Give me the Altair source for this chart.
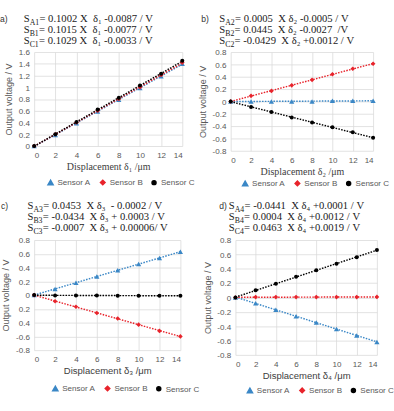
import altair as alt
import pandas as pd

x_disp = [0, 2, 4, 6, 8, 10, 12, 14]
series_names = ["Sensor A", "Sensor B", "Sensor C"]

a_sensor_a = [0, 0.19, 0.39, 0.59, 0.79, 0.99, 1.19, 1.40]
a_sensor_b = [0, 0.20, 0.40, 0.60, 0.80, 1.00, 1.21, 1.42]
a_sensor_c = [0, 0.20, 0.41, 0.62, 0.82, 1.03, 1.23, 1.45]

b_sensor_a = [0, 0.00, 0.00, 0.00, 0.00, 0.01, 0.01, 0.01]
b_sensor_b = [0, 0.09, 0.17, 0.26, 0.35, 0.44, 0.53, 0.61]
b_sensor_c = [0, -0.09, -0.17, -0.26, -0.34, -0.42, -0.50, -0.59]

c_sensor_a = [0, 0.09, 0.18, 0.27, 0.36, 0.45, 0.54, 0.63]
c_sensor_b = [0, -0.09, -0.17, -0.26, -0.34, -0.43, -0.52, -0.60]
c_sensor_c = [0, -0.005, -0.005, -0.007, -0.008, -0.008, -0.009, -0.01]

d_sensor_a = [0, -0.08, -0.17, -0.26, -0.35, -0.44, -0.53, -0.62]
d_sensor_b = [0, 0.005, 0.005, 0.005, 0.005, 0.005, 0.005, 0.008]
d_sensor_c = [0, 0.10, 0.19, 0.29, 0.38, 0.47, 0.56, 0.66]

eq_a = [["A1", "= 0.1002 X  δ₁ -0.0087 / V"],
        ["B1", "= 0.1015 X  δ₁ -0.0077 / V"],
        ["C1", "= 0.1029 X  δ₁ -0.0033 / V"]]
eq_b = [["A2", "= 0.0005  X δ₂ -0.0005 / V"],
        ["B2", "= 0.0445  X δ₂ -0.0027  /V"],
        ["C2", "= -0.0429  X δ₂ +0.0012 / V"]]
eq_c = [["A3", "= 0.0453  X δ₃  - 0.0002 / V"],
        ["B3", "= -0.0434  X δ₃ + 0.0003 / V"],
        ["C3", "= -0.0007  X δ₃ + 0.00006/ V"]]
eq_d = [["A4", "= -0.0441  X δ₄ +0.0001 / V"],
        ["B4", "= 0.0004  X δ₄ +0.0012 / V"],
        ["C4", "= 0.0463  X δ₄ +0.0019 / V"]]

panel_tags = ["a)", "b)", "c)", "d)"]
x_titles = ["Displacement δ₁ /μm", "Displacement δ₂ /μm", "Displacement δ₃ /μm", "Displacement δ₄ /μm"]
y_title = "Output voltage / V"
y_ticks_a = [0, 0.2, 0.4, 0.6, 0.8, 1.0, 1.2, 1.4, 1.6]
y_ticks_bcd = [-0.8, -0.6, -0.4, -0.2, 0, 0.2, 0.4, 0.6, 0.8]

BLUE = "#3A87C6"
RED = "#E8232B"
BLACK = "#000000"

TW = {"S": 556, "A": 722, "B": 667, "C": 667}


def tw(s, fs):
    return sum(TW.get(ch, 500) for ch in s) / 1000.0 * fs


MAIN = 11.2
SUB = 8.2
SUBDY = 3


def make_df(ya, yb, yc):
    rows = []
    for name, ys in zip(series_names, [ya, yb, yc]):
        for x, y in zip(x_disp, ys):
            rows.append({"x": x, "y": y, "series": name})
    return pd.DataFrame(rows)


def eq_df(lines, x0, baselines):
    rows = []
    for (s1, rest), yb in zip(lines, baselines):
        x = x0
        for txt, fs, dy, kind in [("S", MAIN, 0, "m"), (s1, SUB, SUBDY, "s"), (rest, MAIN, 0, "m")]:
            rows.append({"txt": txt.replace(" ", "\u00a0"), "px": x, "py": yb + dy, "kind": kind})
            x += tw(txt, fs) + (0.3 if kind == "s" else 0)
    return pd.DataFrame(rows)


def panel(df, eqd, tag, tag_x, tag_y, ydom, yvals, label_expr, xtitle, xfont, w, h,
          leg_x, leg_y):
    xs = alt.Scale(domain=[0, 14], nice=False, zero=False)
    ys = alt.Scale(domain=ydom, nice=False, zero=False)
    xax = alt.Axis(values=x_disp, title=xtitle, titleFont=xfont,
                   titleFontSize=10.5 if xfont == "Liberation Serif" else 10,
                   titleColor="#404040", labelPadding=5, titlePadding=3)
    yax = alt.Axis(values=yvals, labelExpr=label_expr, title=y_title,
                   labelPadding=5, titlePadding=5)
    leg = alt.Legend(orient="none", legendX=leg_x, legendY=leg_y, direction="horizontal",
                     title=None, labelFontSize=8.5, labelColor="#595959",
                     labelFont="Liberation Sans", columnPadding=6, labelOffset=3)
    cscale = alt.Scale(domain=series_names, range=[BLUE, RED, BLACK])
    sscale = alt.Scale(domain=series_names, range=["triangle-up", "diamond", "circle"])
    zscale = alt.Scale(domain=series_names, range=[30, 18, 42])
    base = alt.Chart(df)
    trend = base.transform_regression("x", "y", groupby=["series"], extent=[0, 14]).mark_line(
        strokeDash=[1.6, 1.4], strokeWidth=1.5).encode(
        x=alt.X("x:Q", scale=xs, axis=xax),
        y=alt.Y("y:Q", scale=ys, axis=yax),
        color=alt.Color("series:N", scale=cscale, legend=leg))
    pts = base.mark_point(filled=True, opacity=1).encode(
        x=alt.X("x:Q", scale=xs, axis=xax),
        y=alt.Y("y:Q", scale=ys, axis=yax),
        color=alt.Color("series:N", scale=cscale, legend=leg),
        shape=alt.Shape("series:N", scale=sscale, legend=leg),
        size=alt.Size("series:N", scale=zscale, legend=leg))
    main = alt.Chart(eqd).transform_filter("datum.kind == 'm'").mark_text(
        align="left", baseline="alphabetic", font="Liberation Serif", color="#1a1a1a",
        fontSize=MAIN).encode(
        x=alt.X("px:Q", scale=None, axis=None),
        y=alt.Y("py:Q", scale=None, axis=None),
        text="txt:N")
    sub = alt.Chart(eqd).transform_filter("datum.kind == 's'").mark_text(
        align="left", baseline="alphabetic", font="Liberation Serif", color="#1a1a1a",
        fontSize=SUB).encode(
        x=alt.X("px:Q", scale=None, axis=None),
        y=alt.Y("py:Q", scale=None, axis=None),
        text="txt:N")
    tg = alt.Chart(pd.DataFrame({"t": [tag]})).mark_text(
        align="left", baseline="alphabetic", font="Liberation Sans", fontSize=9,
        color="#333333").encode(x=alt.value(tag_x), y=alt.value(tag_y), text="t:N")
    return alt.layer(alt.layer(trend, pts), alt.layer(main, sub, tg)).resolve_scale(
        x="independent", y="independent").properties(width=w, height=h)


LBL = "datum.value == 0 ? '0' : toString(round(datum.value*10)/10)"
LBL_C = ("datum.value < 0 && datum.value > -0.5 ? toString(round(-datum.value*10)/10) : "
         "(datum.value == 0 ? '0' : toString(round(datum.value*10)/10))")

pa = panel(make_df(a_sensor_a, a_sensor_b, a_sensor_c), eq_df(eq_a, -11, [-32, -20, -8]),
           panel_tags[0], -36, -32, [0, 1.6], y_ticks_a, LBL, x_titles[0], "Liberation Serif",
           156, 99, 13, 133)
pb = panel(make_df(b_sensor_a, b_sensor_b, b_sensor_c), eq_df(eq_b, -12, [-32, -20, -8]),
           panel_tags[1], -31, -32, [-0.8, 0.8], y_ticks_bcd, LBL, x_titles[1], "Liberation Serif",
           150, 104, 11, 134)
pc = panel(make_df(c_sensor_a, c_sensor_b, c_sensor_c), eq_df(eq_c, -7, [-33, -21, -9]),
           panel_tags[2], -35, -33, [-0.8, 0.8], y_ticks_bcd, LBL_C, x_titles[2], "Liberation Sans",
           154, 116, 18, 152)
pd_ = panel(make_df(d_sensor_a, d_sensor_b, d_sensor_c), eq_df(eq_d, -7, [-33, -21, -9]),
            panel_tags[3], -17, -33, [-0.8, 0.8], y_ticks_bcd, LBL, x_titles[3], "Liberation Sans",
            149, 121, 11, 154)


def resolved(ch):
    return ch.resolve_scale(color="independent", shape="independent",
                            size="independent").resolve_legend(
        color="independent", shape="independent", size="independent")


row1 = resolved(alt.hconcat(pa, pb, spacing=3))
row2 = resolved(alt.hconcat(pc, pd_, spacing=3))

chart = resolved(alt.vconcat(row1, row2, spacing=12)).properties(
    padding={"left": 0, "top": 3, "right": 0, "bottom": 0}
).configure_view(stroke=None).configure_axis(
    domain=False, ticks=False, gridColor="#D9D9D9", gridWidth=0.8,
    labelFont="Liberation Sans", labelFontSize=8.5, labelColor="#595959",
    titleFont="Liberation Sans", titleFontSize=9.5, titleColor="#595959",
    titleFontWeight="normal")

chart.save("out.html", embed_options={"renderer": "svg", "actions": False})
